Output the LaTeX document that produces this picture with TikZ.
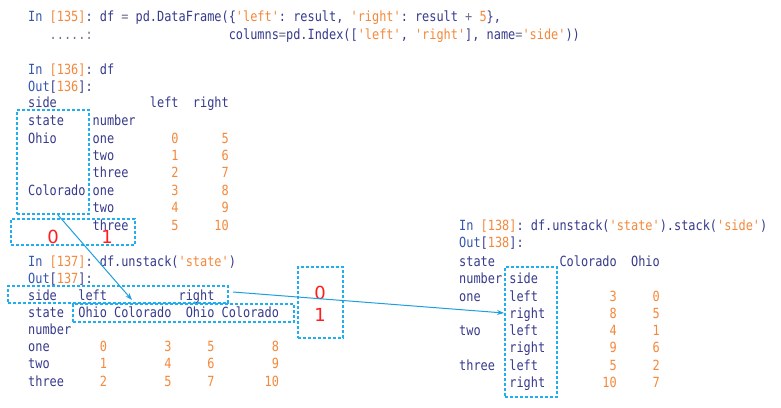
\documentclass[tikz,border=0pt]{standalone}
\usepackage{fontspec}
\setmonofont[FakeStretch=0.85]{DejaVu Sans Mono}
\newfontfamily\labfont{DejaVu Sans}
\usetikzlibrary{arrows.meta}
\definecolor{navy}{HTML}{373B8C}
\definecolor{inblue}{HTML}{3557B0}
\definecolor{codeorange}{HTML}{F5883A}
\definecolor{codegray}{HTML}{6E7090}
\definecolor{boxcyan}{HTML}{1FAEF0}
\definecolor{arrowcyan}{HTML}{1E9FE0}
\definecolor{labred}{HTML}{FF1E1E}
\newcommand{\cO}[1]{\textcolor{codeorange}{#1}}
\newcommand{\cB}[1]{\textcolor{inblue}{#1}}
\newcommand{\cG}[1]{\textcolor{codegray}{#1}}
\tikzset{
  code/.style={anchor=base west, inner sep=0pt, text=navy,
    font=\ttfamily\fontsize{14}{16}\selectfont\frenchspacing},
  dbox/.style={draw=boxcyan, dash pattern=on 3pt off 2pt, line width=1.5pt, inner sep=0pt},
  redlbl/.style={text=labred, inner sep=0pt, font=\labfont\fontsize{18}{20}\selectfont},
  arr/.style={draw=arrowcyan, line width=1pt, -{Stealth[length=7pt,width=5pt]}}
}
\begin{document}
\begin{tikzpicture}[x=1pt,y=-1pt]
\useasboundingbox[fill=white] (0,0) rectangle (781,407);
% block 1
\node[code] (n1) at (28,21.5) {\cB{In} \cO{[135]}: df \cG{=} pd.DataFrame(\{\cO{'left'}: result, \cO{'right'}: result \cG{+} \cO{5}\},};
\node[code] (n2) at (28,39.5) {\cG{~~~.....:}~~~~~~~~~~~~~~~~~~~columns\cG{=}pd.Index([\cO{'left'}, \cO{'right'}], name\cG{=}\cO{'side'}))};
\node[code] (n3) at (28,74.5) {\cB{In} \cO{[136]}: df};
\node[code] (n4) at (28,91.5) {\cB{Out}[\cO{136}]:};
\node[code] (n5) at (28,107.5) {side~~~~~~~~~~~~~left~~right};
\node[code] (n6) at (28,125.5) {state~~~~number};
\node[code] (n7) at (28,143.5) {Ohio~~~~~one~~~~~~~~\cO{0}~~~~~~\cO{5}};
\node[code] (n8) at (28,160.5) {~~~~~~~~~two~~~~~~~~\cO{1}~~~~~~\cO{6}};
\node[code] (n9) at (28,177.5) {~~~~~~~~~three~~~~~~\cO{2}~~~~~~\cO{7}};
\node[code] (n10) at (28,195) {Colorado~one~~~~~~~~\cO{3}~~~~~~\cO{8}};
\node[code] (n11) at (28,212) {~~~~~~~~~two~~~~~~~~\cO{4}~~~~~~\cO{9}};
\node[code] (n12) at (28,230) {~~~~~~~~~three~~~~~~\cO{5}~~~~~\cO{10}};
% block 2
\node[code] (m1) at (28,266.5) {\cB{In} \cO{[137]}: df.unstack(\cO{'state'})};
\node[code] (m2) at (28,283.5) {\cB{Out}[\cO{137}]:};
\node[code] (m3) at (28,300.5) {side~~~left~~~~~~~~~~right};
\node[code] (m4) at (28,317.5) {state~~Ohio Colorado~~Ohio Colorado};
\node[code] (m5) at (28,334.5) {number};
\node[code] (m6) at (28,351.5) {one~~~~~~~\cO{0}~~~~~~~~\cO{3}~~~~~\cO{5}~~~~~~~~\cO{8}};
\node[code] (m7) at (28,368.5) {two~~~~~~~\cO{1}~~~~~~~~\cO{4}~~~~~\cO{6}~~~~~~~~\cO{9}};
\node[code] (m8) at (28,386.5) {three~~~~~\cO{2}~~~~~~~~\cO{5}~~~~~\cO{7}~~~~~~~\cO{10}};
% block 3
\node[code] (k1) at (459,230.5) {\cB{In} \cO{[138]}: df.unstack(\cO{'state'}).stack(\cO{'side'})};
\node[code] (k2) at (459,247.5) {\cB{Out}[\cO{138}]:};
\node[code] (k3) at (459,266.5) {state~~~~~~~~~Colorado~~Ohio};
\node[code] (k4) at (459,283.5) {number side};
\node[code] (k5) at (459,301.5) {one~~~~left~~~~~~~~~~\cO{3}~~~~~\cO{0}};
\node[code] (k6) at (459,318.5) {~~~~~~~right~~~~~~~~~\cO{8}~~~~~\cO{5}};
\node[code] (k7) at (459,335.5) {two~~~~left~~~~~~~~~~\cO{4}~~~~~\cO{1}};
\node[code] (k8) at (459,352.5) {~~~~~~~right~~~~~~~~~\cO{9}~~~~~\cO{6}};
\node[code] (k9) at (459,370.5) {three~~left~~~~~~~~~~\cO{5}~~~~~\cO{2}};
\node[code] (k10) at (459,387.5) {~~~~~~~right~~~~~~~~\cO{10}~~~~~\cO{7}};
% dashed boxes
\node[dbox, minimum width=72pt, minimum height=104pt] (b1) at (53,162) {};
\node[dbox, minimum width=124pt, minimum height=26pt] (b2) at (73,232) {};
\node[dbox, minimum width=220pt, minimum height=17pt] (b3) at (118,294.5) {};
\node[dbox, minimum width=221pt, minimum height=18pt] (b4) at (183.5,313) {};
\node[dbox, minimum width=45pt, minimum height=71pt] (b5) at (320.5,302.5) {};
\node[dbox, minimum width=52pt, minimum height=130pt] (b6) at (531,332) {};
% red labels
\node[redlbl] (r0) at (53,237) {0};
\node[redlbl] (r1) at (107,237) {1};
\node[redlbl] (r2) at (320,293) {0};
\node[redlbl] (r3) at (320,315) {1};
% arrows
\coordinate (a1s) at (58,215);
\coordinate (a1e) at (132,300);
\coordinate (a2s) at (233,292);
\coordinate (a2e) at (504,313);
\draw[arr] (a1s) -- (a1e);
\draw[arr] (a2s) -- (a2e);
\end{tikzpicture}
\end{document}
